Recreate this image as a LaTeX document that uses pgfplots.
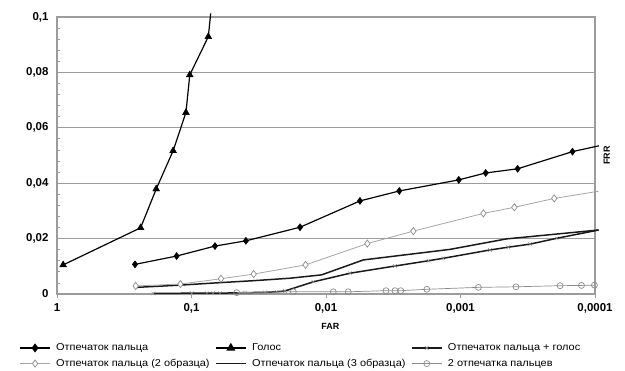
\documentclass[border=0pt]{standalone}
\usepackage{fontspec}
\setmainfont{Liberation Sans}
\newfontfamily\legfont{Liberation Sans}[FakeStretch=1.1]
\usepackage{pgfplots}
\pgfplotsset{compat=1.18}
\definecolor{gridc}{HTML}{9C9C9C}
\definecolor{ltgray}{HTML}{A6A6A6}
\definecolor{mkgray}{HTML}{8C8C8C}
\definecolor{dk}{HTML}{1A1A1A}
\begin{document}
\begin{tikzpicture}
\path (0,0) (625bp,371bp);
\begin{axis}[
 at={(57bp,77bp)}, anchor=south west,
 scale only axis, width=538bp, height=277bp,
 xmode=log, x dir=reverse, xmin=0.0001, xmax=1,
 ymin=0, ymax=0.1,
 xtick={1,0.1,0.01,0.001,0.0001},
 xticklabels={1,{0,1},{0,01},{0,001},{0,0001}},
 ytick={0,0.02,0.04,0.06,0.08,0.1},
 yticklabels={0,{0,02},{0,04},{0,06},{0,08},{0,1}},
 minor ytick={0.004,0.008,0.012,0.016,0.024,0.028,0.032,0.036,0.044,0.048,0.052,0.056,0.064,0.068,0.072,0.076,0.084,0.088,0.092,0.096},
 xminorticks=false,
 xtick pos=bottom, ytick pos=left,
 xtick align=outside, ytick align=inside,
 major tick length=4bp, minor tick length=3bp,
 ymajorgrids=true,
 grid style={color=gridc, line width=1.2pt},
 axis line style={color=gridc, line width=1.2pt},
 tick style={color=gridc, line width=0.8pt},
 yticklabel style={font=\fontsize{11.5}{12}\selectfont\bfseries, xshift=-5bp},
 xticklabel style={font=\fontsize{11.5}{12}\selectfont\bfseries, yshift=-2bp},
 xlabel={FAR}, ylabel={FRR},
 label style={font=\fontsize{9}{10}\selectfont\bfseries},
 ylabel style={at={(axis description cs:1.022,0.5)}, anchor=center},
 xlabel style={at={(axis description cs:0.508,-0.117)}, anchor=center},
 clip=false,
 legend columns=3,
 legend cell align=left,
 legend style={at={(axis description cs:-0.072,-0.168)}, anchor=north west, draw=none, fill=none,
   font=\legfont\fontsize{10}{11}\selectfont, column sep=4bp, row sep=3bp, inner sep=1bp,
   nodes={inner xsep=1.5bp}},
 legend image code/.code={\draw[mark repeat=2,mark phase=2] plot coordinates {(0bp,0bp) (15bp,0bp) (30bp,0bp)};},
]
% Отпечаток пальца + голос (line)
\addplot[dk, line width=1.5pt, forget plot] coordinates {
(0.192,0.0002) (0.0997,0.0003) (0.0771,0.0003) (0.0692,0.0003) (0.0614,0.0003)
(0.040,0.0005) (0.0284,0.0006) (0.0233,0.0008) (0.0202,0.0011) (0.0124,0.0044)
(0.00663,0.0075) (0.00307,0.0101) (0.00173,0.0120) (0.00134,0.0129) (0.000604,0.0159)
(0.000441,0.0169) (0.000304,0.0180) (0.000193,0.0201) (0.000094,0.0231)};
\addplot[only marks, mark=x, mark size=2.6pt, mkgray, forget plot] coordinates {
(0.192,0.0002) (0.0997,0.0003) (0.0771,0.0003) (0.0692,0.0003) (0.0614,0.0003)
(0.040,0.0005) (0.0284,0.0006) (0.0233,0.0008) (0.0202,0.0011) (0.0124,0.0044)
(0.00663,0.0075) (0.00307,0.0101) (0.00173,0.0120) (0.00134,0.0129) (0.000604,0.0159)
(0.000441,0.0169) (0.000304,0.0180) (0.000193,0.0201)};
% Отпечаток пальца (3 образца)
\addplot[dk, line width=1.5pt, forget plot] coordinates {
(0.255,0.0024) (0.122,0.0032) (0.0614,0.0041) (0.0347,0.0048) (0.0185,0.0057)
(0.0108,0.0069) (0.00528,0.0123) (0.00120,0.0161) (0.000454,0.0199) (0.000094,0.0231)};
% 2 отпечатка пальцев
\addplot[mkgray, line width=0.7pt, mark=o, mark size=3pt, mark options={fill=white, line width=0.7pt}, forget plot] coordinates {
(0.0461,0.0005) (0.0175,0.0008) (0.00883,0.0008) (0.00683,0.0008) (0.00358,0.0012)
(0.00307,0.0012) (0.00278,0.0012) (0.00178,0.0017) (0.000736,0.0024) (0.000387,0.0026)
(0.000182,0.0030) (0.000126,0.0031) (0.000101,0.0032)};
% Отпечаток пальца (2 образца)
\addplot[ltgray, line width=0.8pt, forget plot] coordinates {
(0.260,0.0029) (0.121,0.0036) (0.0604,0.0055) (0.0345,0.0072) (0.0142,0.0105)
(0.00493,0.0182) (0.00224,0.0227) (0.000676,0.0291) (0.000398,0.0313) (0.000201,0.0345)
(0.000094,0.0371)};
\addplot[only marks, mark=diamond*, mark size=3.6pt, mark options={fill=white, draw=mkgray, line width=0.7pt}, forget plot] coordinates {
(0.260,0.0029) (0.121,0.0036) (0.0604,0.0055) (0.0345,0.0072) (0.0142,0.0105)
(0.00493,0.0182) (0.00224,0.0227) (0.000676,0.0291) (0.000398,0.0313) (0.000201,0.0345)};
% Отпечаток пальца
\addplot[black, line width=1.2pt, forget plot] coordinates {
(0.263,0.0107) (0.129,0.0137) (0.0669,0.0173) (0.0394,0.0192) (0.0156,0.0241)
(0.00559,0.0336) (0.00285,0.0372) (0.00103,0.0412) (0.00065,0.0437) (0.000376,0.0452)
(0.000147,0.0514) (0.0000935,0.0535)};
\addplot[only marks, mark=diamond*, mark size=3.6pt, black, forget plot] coordinates {
(0.263,0.0107) (0.129,0.0137) (0.0669,0.0173) (0.0394,0.0192) (0.0156,0.0241)
(0.00559,0.0336) (0.00285,0.0372) (0.00103,0.0412) (0.00065,0.0437) (0.000376,0.0452)
(0.000147,0.0514)};
% Голос
\addplot[black, line width=1.2pt, forget plot] coordinates {
(0.9,0.0105) (0.239,0.0239) (0.183,0.0379) (0.137,0.0517) (0.110,0.0655)
(0.103,0.0791) (0.075,0.0929) (0.072,0.1013)};
\addplot[only marks, mark=triangle*, mark size=4pt, black, forget plot] coordinates {
(0.9,0.0105) (0.239,0.0239) (0.183,0.0379) (0.137,0.0517) (0.110,0.0655)
(0.103,0.0791) (0.075,0.0929)};
% legend
\addlegendimage{black, line width=1.2pt, mark=diamond*, mark size=3.6pt}
\addlegendentry{Отпечаток пальца}
\addlegendimage{black, line width=1.2pt, mark=triangle*, mark size=4pt}
\addlegendentry{Голос}
\addlegendimage{dk, line width=1.5pt, mark=x, mark size=2.6pt, mark options={mkgray, line width=0.6pt}}
\addlegendentry{Отпечаток пальца + голос}
\addlegendimage{ltgray, line width=0.8pt, mark=diamond*, mark size=3.6pt, mark options={fill=white, draw=mkgray, line width=0.7pt}}
\addlegendentry{Отпечаток пальца (2 образца)}
\addlegendimage{dk, line width=1.5pt}
\addlegendentry{Отпечаток пальца (3 образца)}
\addlegendimage{mkgray, line width=0.7pt, mark=o, mark size=3pt, mark options={fill=white, line width=0.7pt}}
\addlegendentry{2 отпечатка пальцев}
\end{axis}
\end{tikzpicture}
\end{document}
